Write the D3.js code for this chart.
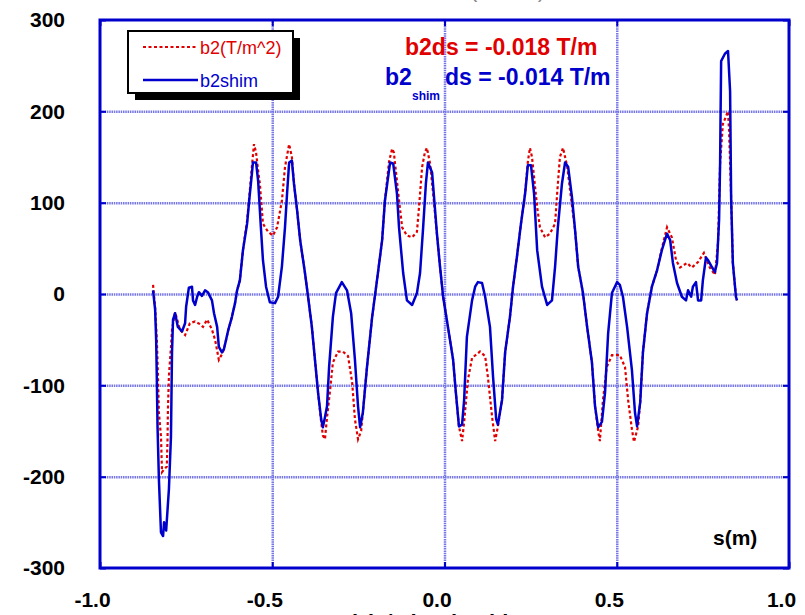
<!DOCTYPE html>
<html><head><meta charset="utf-8">
<script src="https://cdn.jsdelivr.net/npm/d3@7"></script>
<style>body{margin:0;background:#fff} svg{display:block} text{font-family:"Liberation Sans",Arial,sans-serif}</style>
</head><body><svg id="c" width="805" height="615"></svg>
<script>
const xTicks=[-1.0,-0.5,0.0,0.5,1.0];
const yTicks=[-300,-200,-100,0,100,200,300];
const seriesNames=["b2(T/m^2)","b2shim"];
const b2S=[-0.846,-0.840,-0.835,-0.832,-0.829,-0.823,-0.820,-0.814,-0.806,-0.804,-0.803,-0.800,-0.794,-0.791,-0.782,-0.776,-0.768,-0.753,-0.739,-0.724,-0.710,-0.701,-0.689,-0.675,-0.666,-0.655,-0.646,-0.640,-0.634,-0.628,-0.617,-0.608,-0.602,-0.594,-0.585,-0.573,-0.567,-0.559,-0.553,-0.547,-0.541,-0.536,-0.527,-0.512,-0.498,-0.486,-0.472,-0.463,-0.451,-0.443,-0.437,-0.428,-0.419,-0.405,-0.396,-0.385,-0.376,-0.367,-0.358,-0.353,-0.347,-0.341,-0.332,-0.324,-0.309,-0.295,-0.280,-0.268,-0.260,-0.251,-0.242,-0.237,-0.225,-0.210,-0.196,-0.181,-0.173,-0.161,-0.152,-0.147,-0.135,-0.123,-0.109,-0.094,-0.080,-0.074,-0.065,-0.057,-0.051,-0.042,-0.033,-0.022,-0.013,-0.004,0.010,0.025,0.033,0.042,0.051,0.057,0.068,0.080,0.103,0.118,0.126,0.138,0.147,0.155,0.167,0.176,0.190,0.199,0.210,0.222,0.234,0.242,0.248,0.254,0.269,0.277,0.292,0.306,0.321,0.327,0.335,0.344,0.356,0.364,0.379,0.388,0.402,0.414,0.428,0.437,0.446,0.451,0.460,0.471,0.486,0.509,0.524,0.533,0.544,0.550,0.562,0.568,0.576,0.588,0.602,0.617,0.631,0.640,0.646,0.660,0.672,0.684,0.704,0.718,0.736,0.753,0.770,0.785,0.794,0.800,0.808,0.823,0.826,0.832,0.837,0.846,0.849];
const b2V=[10,-15,-50,-86,-130,-156,-195,-192,-189,-159,-130,-90,-58,-39,-20,-28,-39,-45,-32,-30,-33,-36,-28,-39,-50,-72,-66,-60,-50,-40,-25,-10,4,15,48,80,105,140,164,155,135,121,77,68,64,73,102,139,164,150,121,92,59,23,-3,-36,-72,-108,-140,-155,-159,-135,-105,-75,-63,-63,-68,-97,-137,-159,-150,-130,-80,-25,15,59,102,145,159,155,113,73,64,62,68,95,139,155,160,143,110,66,30,-3,-36,-72,-108,-145,-161,-140,-94,-70,-63,-68,-91,-134,-161,-145,-116,-64,-25,8,40,77,110,145,160,150,95,73,62,66,77,110,150,160,140,115,70,30,1,-36,-75,-123,-150,-161,-116,-80,-67,-67,-80,-116,-148,-162,-145,-119,-64,-21,8,26,50,64,73,62,37,29,34,29,35,45,29,21,56,143,186,200,179,106,34,-3,-7];
const shimS=[-0.846,-0.840,-0.837,-0.835,-0.833,-0.829,-0.823,-0.817,-0.814,-0.808,-0.800,-0.794,-0.791,-0.788,-0.782,-0.774,-0.762,-0.753,-0.750,-0.742,-0.733,-0.730,-0.724,-0.718,-0.713,-0.704,-0.695,-0.687,-0.675,-0.669,-0.660,-0.655,-0.646,-0.640,-0.634,-0.628,-0.617,-0.608,-0.602,-0.594,-0.585,-0.573,-0.567,-0.559,-0.556,-0.547,-0.541,-0.533,-0.527,-0.518,-0.507,-0.492,-0.483,-0.472,-0.463,-0.457,-0.451,-0.443,-0.437,-0.428,-0.419,-0.405,-0.396,-0.385,-0.376,-0.367,-0.358,-0.353,-0.347,-0.341,-0.335,-0.324,-0.315,-0.298,-0.283,-0.271,-0.260,-0.251,-0.245,-0.237,-0.225,-0.210,-0.196,-0.181,-0.173,-0.158,-0.149,-0.138,-0.132,-0.120,-0.109,-0.094,-0.080,-0.071,-0.062,-0.054,-0.048,-0.036,-0.028,-0.022,-0.013,-0.004,0.010,0.025,0.033,0.042,0.051,0.057,0.065,0.080,0.089,0.097,0.109,0.118,0.132,0.141,0.150,0.155,0.167,0.176,0.190,0.199,0.210,0.222,0.234,0.242,0.251,0.260,0.269,0.283,0.298,0.312,0.321,0.329,0.341,0.350,0.359,0.370,0.379,0.388,0.402,0.414,0.428,0.437,0.446,0.457,0.466,0.475,0.486,0.501,0.509,0.518,0.530,0.544,0.553,0.559,0.568,0.576,0.588,0.602,0.617,0.631,0.640,0.646,0.655,0.663,0.675,0.689,0.701,0.707,0.716,0.721,0.730,0.736,0.745,0.750,0.759,0.765,0.777,0.785,0.791,0.797,0.800,0.801,0.803,0.814,0.823,0.829,0.832,0.837,0.846,0.849];
const shimV=[4,-17,-50,-94,-145,-203,-261,-265,-250,-259,-214,-156,-64,-28,-21,-36,-41,-32,-14,7,8,-7,-12,-3,2,-2,4,2,-7,-21,-36,-58,-64,-60,-50,-40,-25,-10,4,15,48,77,102,132,144,144,124,73,37,8,-9,-10,-3,30,73,110,144,146,121,92,59,23,-3,-36,-72,-108,-137,-146,-135,-123,-80,-25,1,13,4,-21,-72,-123,-146,-130,-80,-25,15,59,102,144,143,110,73,23,-7,-12,1,23,73,121,144,133,95,66,30,-3,-36,-72,-108,-145,-143,-116,-47,-7,8,13,12,-3,-36,-91,-137,-143,-116,-64,-25,8,40,77,110,141,141,110,48,8,-12,-7,30,73,121,144,139,106,70,30,1,-36,-75,-123,-146,-140,-108,-43,1,13,10,-3,-36,-83,-130,-145,-119,-64,-21,8,26,48,59,66,59,34,12,-3,-7,4,-3,8,13,-7,-7,15,40,37,29,24,34,81,143,182,255,263,266,222,106,34,-3,-7];

const svg=d3.select("#c");
const L=100,R=789,T=20,B=568;
const x=d3.scaleLinear().domain([-1,1]).range([L,R]);
const y=d3.scaleLinear().domain([-300,300]).range([B,T]);
const gridCol="#7676e6", frameCol="#0000cc";
const hy=f=>d=>f(d).replace("\u2212","-");

// grid lines
svg.append("g").attr("transform",`translate(0,${B})`)
  .call(d3.axisBottom(x).tickValues(xTicks.slice(1,-1)).tickSize(-(B-T)).tickFormat(""))
  .call(g=>g.select(".domain").remove())
  .call(g=>g.selectAll("line").attr("stroke",gridCol).attr("stroke-width",2.5).attr("stroke-dasharray","1.5 0.8"));
svg.append("g").attr("transform",`translate(${L},0)`)
  .call(d3.axisLeft(y).tickValues(yTicks.slice(1,-1)).tickSize(-(R-L)).tickFormat(""))
  .call(g=>g.select(".domain").remove())
  .call(g=>g.selectAll("line").attr("stroke",gridCol).attr("stroke-width",2.5).attr("stroke-dasharray","1.5 0.8"));

// inner tick marks
const tk=6;
[[d3.axisBottom(x),`translate(0,${B})`,-tk,xTicks],[d3.axisTop(x),`translate(0,${T})`,-tk,xTicks],
 [d3.axisLeft(y),`translate(${L},0)`,-tk,yTicks],[d3.axisRight(y),`translate(${R},0)`,-tk,yTicks]].forEach(([ax,tr,s,tv])=>{
  svg.append("g").attr("transform",tr).call(ax.tickValues(tv).tickSize(s).tickFormat(""))
    .call(g=>g.select(".domain").remove())
    .call(g=>g.selectAll("line").attr("stroke",frameCol).attr("stroke-width",2));
});

// frame
svg.append("rect").attr("x",L).attr("y",T).attr("width",R-L).attr("height",B-T)
  .attr("fill","none").attr("stroke",frameCol).attr("stroke-width",3);

// tick labels
svg.append("g").attr("transform",`translate(${L},0)`)
  .call(d3.axisLeft(y).tickValues(yTicks).tickSize(0).tickPadding(35).tickFormat(hy(d3.format("d"))))
  .call(g=>g.select(".domain").remove())
  .call(g=>g.selectAll("text").attr("font-family","'Liberation Sans',Arial,sans-serif").attr("font-size",21).attr("font-weight","bold").attr("fill","#000"));
svg.append("g").attr("transform",`translate(0,${B})`)
  .call(d3.axisBottom(x).tickValues(xTicks).tickSize(0).tickPadding(24).tickFormat(hy(d3.format(".1f"))))
  .call(g=>g.select(".domain").remove())
  .call(g=>g.selectAll("text").attr("dx",-8).attr("font-family","'Liberation Sans',Arial,sans-serif").attr("font-size",21).attr("font-weight","bold").attr("fill","#000"));

// curves
const line=d3.line().x(d=>x(d[0])).y(d=>y(d[1]));
const b2Data=b2S.map((s,i)=>[s,b2V[i]]);
const shimData=shimS.map((s,i)=>[s,shimV[i]]);
svg.append("path").datum(b2Data).attr("d",line).attr("fill","none")
  .attr("stroke","#e00000").attr("stroke-width",2.2).attr("stroke-dasharray","3 2.5");
svg.append("path").datum(shimData).attr("d",line).attr("fill","none")
  .attr("stroke","#0000cc").attr("stroke-width",2.5).attr("stroke-linejoin","round");

// legend
const lg=svg.append("g");
lg.append("rect").attr("x",135).attr("y",38).attr("width",165).attr("height",62).attr("fill","#000");
lg.append("rect").attr("x",128).attr("y",31).attr("width",165).attr("height",62).attr("fill","#fff").attr("stroke","#000").attr("stroke-width",2);
lg.append("line").attr("x1",143).attr("x2",198).attr("y1",47).attr("y2",47).attr("stroke","#e00000").attr("stroke-width",2).attr("stroke-dasharray","3 2.5");
lg.append("line").attr("x1",143).attr("x2",198).attr("y1",80).attr("y2",80).attr("stroke","#0000cc").attr("stroke-width",2.5);
lg.append("text").attr("x",200).attr("y",54).attr("font-size",18).attr("fill","#e00000").text(seriesNames[0]);
lg.append("text").attr("x",200).attr("y",87).attr("font-size",18).attr("fill","#0000cc").text(seriesNames[1]);

// annotations
svg.append("text").attr("x",405).attr("y",55).attr("font-size",23).attr("font-weight","bold").attr("fill","#e00000").text("b2ds = -0.018 T/m");
svg.append("text").attr("x",385).attr("y",85).attr("font-size",23).attr("font-weight","bold").attr("fill","#0000cc").text("b2");
svg.append("text").attr("x",412).attr("y",100).attr("font-size",12).attr("font-weight","bold").attr("fill","#0000cc").text("shim");
svg.append("text").attr("x",445).attr("y",85).attr("font-size",23).attr("font-weight","bold").attr("fill","#0000cc").text("ds = -0.014 T/m");
svg.append("text").attr("x",713).attr("y",545).attr("font-size",21).attr("font-weight","bold").attr("fill","#000").text("s(m)");

// partially visible titles (cut by the page edges)
svg.append("text").attr("x",470).attr("y",-3).attr("font-size",22).attr("fill","#888").text("(T/m^2)");
svg.append("text").attr("x",440).attr("y",630).attr("text-anchor","middle").attr("font-size",22).attr("font-weight","bold").attr("fill","#000").text("b(T/m) at b2shim");
</script></body></html>
